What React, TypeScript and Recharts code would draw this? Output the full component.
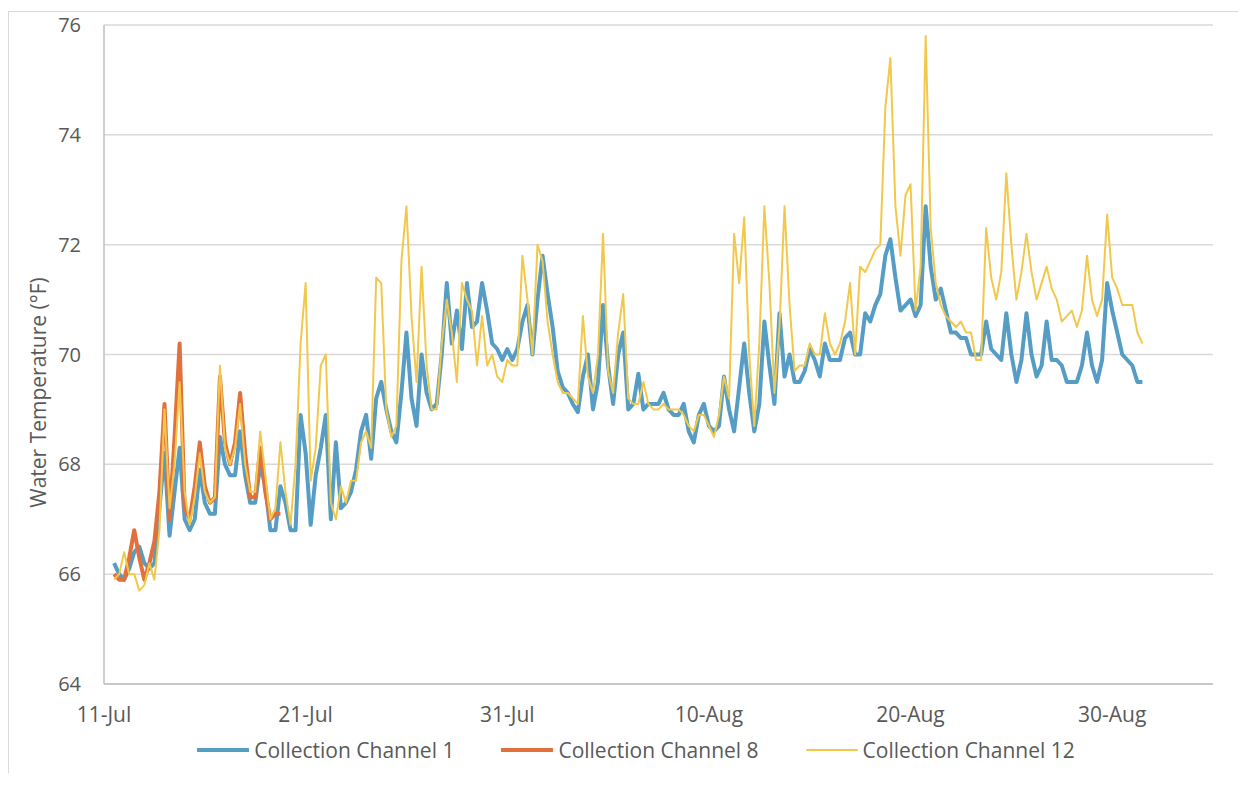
import React from "react";
import {
  LineChart,
  Line,
  XAxis,
  YAxis,
  CartesianGrid,
  Legend,
} from "recharts";

// readings every 6 hours, day 0 = 11-Jul 00:00
const FIRST_DAY = 0.5;
const STEP_DAYS = 0.25;

const TICK_DAYS = [0, 10, 20, 30, 40, 50];
const TICK_LABELS = ["11-Jul", "21-Jul", "31-Jul", "10-Aug", "20-Aug", "30-Aug"];
const Y_TICKS = [64, 66, 68, 70, 72, 74, 76];

const channel1 = [
  66.2, 66.0,
  65.9, 66.1, 66.4, 66.5,
  66.2, 66.1, 66.2, 67.2,
  68.2, 66.7, 67.5, 68.3,
  67.0, 66.8, 67.0, 67.9,
  67.3, 67.1, 67.1, 68.5,
  68.0, 67.8, 67.8, 68.6,
  67.8, 67.3, 67.3, 68.0,
  67.6, 66.8, 66.8, 67.6,
  67.3, 66.8, 66.8, 68.9,
  68.2, 66.9, 67.8, 68.3,
  68.9, 67.0, 68.4, 67.2,
  67.3, 67.5, 67.9, 68.6,
  68.9, 68.1, 69.2, 69.5,
  69.0, 68.6, 68.4, 69.3,
  70.4, 69.2, 68.7, 70.0,
  69.3, 69.0, 69.1, 70.0,
  71.3, 70.2, 70.8, 70.1,
  71.3, 70.5, 70.6, 71.3,
  70.8, 70.2, 70.1, 69.9,
  70.1, 69.9, 70.1, 70.6,
  70.9, 70.0, 71.0, 71.8,
  71.1, 70.5, 69.7, 69.4,
  69.3, 69.1, 68.95, 69.6,
  70.0, 69.0, 69.5, 70.9,
  69.8, 69.1, 70.0, 70.4,
  69.0, 69.1, 69.65, 69.0,
  69.1, 69.1, 69.1, 69.3,
  69.0, 68.9, 68.9, 69.1,
  68.6, 68.4, 68.9, 69.1,
  68.7, 68.6, 68.7, 69.6,
  69.0, 68.6, 69.4, 70.2,
  69.3, 68.6, 69.1, 70.6,
  69.8, 69.1, 70.75, 69.6,
  70.0, 69.5, 69.5, 69.7,
  70.1, 69.9, 69.6, 70.2,
  69.9, 69.9, 69.9, 70.3,
  70.4, 70.0, 70.0, 70.75,
  70.6, 70.9, 71.1, 71.8,
  72.1, 71.4, 70.8, 70.9,
  71.0, 70.7, 70.9, 72.7,
  71.6, 71.0, 71.2, 70.8,
  70.4, 70.4, 70.3, 70.3,
  70.0, 70.0, 70.0, 70.6,
  70.1, 70.0, 69.9, 70.75,
  70.0, 69.5, 69.9, 70.75,
  70.0, 69.6, 69.8, 70.6,
  69.9, 69.9, 69.8, 69.5,
  69.5, 69.5, 69.8, 70.4,
  69.8, 69.5, 69.9, 71.3,
  70.8, 70.4, 70.0, 69.9,
  69.8, 69.5, 69.5,
];

const channel8 = [
  66.0, 65.9,
  65.9, 66.3, 66.8, 66.3,
  65.9, 66.2, 66.6, 67.5,
  69.1, 67.0, 68.5, 70.2,
  67.2, 67.0, 67.6, 68.4,
  67.6, 67.3, 67.4, 69.6,
  68.4, 68.0, 68.4, 69.3,
  68.2, 67.4, 67.4, 68.3,
  67.5, 67.0, 67.1, 67.1,
];

const channel12 = [
  65.9, 66.0,
  66.4, 66.0, 66.0, 65.7,
  65.8, 66.2, 65.9, 66.8,
  69.0, 67.2, 68.0, 69.5,
  67.5, 66.9, 67.4, 68.2,
  67.5, 67.3, 67.4, 69.8,
  68.3, 68.0, 68.3, 69.1,
  68.0, 67.5, 67.5, 68.6,
  67.8, 67.0, 67.2, 68.4,
  67.5, 66.9, 68.0, 70.2,
  71.3, 67.7, 68.3, 69.8,
  70.0, 67.3, 67.0, 67.6,
  67.3, 67.7, 67.7, 68.4,
  68.6, 68.3, 71.4, 71.3,
  69.0, 68.5, 68.7, 71.7,
  72.7, 70.7, 69.5, 71.6,
  69.8, 69.0, 69.0, 70.2,
  71.0, 70.4, 69.5, 71.3,
  71.0, 70.8, 69.8, 70.7,
  69.8, 70.0, 69.6, 69.5,
  69.9, 69.8, 69.8, 71.8,
  71.0, 70.0, 72.0, 71.7,
  70.6, 70.0, 69.5, 69.3,
  69.3, 69.2, 69.1, 70.7,
  69.6, 69.3, 70.0, 72.2,
  69.7, 69.3, 70.4, 71.1,
  69.2, 69.1, 69.1, 69.5,
  69.1, 69.0, 69.0, 69.1,
  69.0, 69.0, 69.0, 68.9,
  68.7, 68.6, 68.9, 68.9,
  68.7, 68.5, 68.9, 69.6,
  69.2, 72.2, 71.3, 72.5,
  70.0, 68.7, 70.2, 72.7,
  71.3, 69.3, 70.5, 72.7,
  70.9, 69.7, 69.8, 69.8,
  70.2, 70.0, 70.0, 70.75,
  70.2, 70.0, 70.2, 70.6,
  71.3, 70.0, 71.6, 71.5,
  71.7, 71.9, 72.0, 74.5,
  75.4, 72.7, 71.8, 72.9,
  73.1, 70.8, 71.6, 75.8,
  72.3, 71.3, 70.9, 70.7,
  70.6, 70.5, 70.6, 70.4,
  70.4, 69.9, 69.9, 72.3,
  71.4, 71.0, 71.5, 73.3,
  72.0, 71.0, 71.5, 72.2,
  71.5, 71.0, 71.3, 71.6,
  71.2, 71.0, 70.6, 70.7,
  70.8, 70.5, 70.8, 71.8,
  71.0, 70.7, 71.0, 72.55,
  71.4, 71.2, 70.9, 70.9,
  70.9, 70.4, 70.2,
];

const SERIES = [
  { key: "ch1", name: "Collection Channel 1", color: "#559dc4", width: 4 },
  { key: "ch8", name: "Collection Channel 8", color: "#e0703c", width: 4 },
  { key: "ch12", name: "Collection Channel 12", color: "#f2c84b", width: 2 },
];

const data = channel1.map((v, i) => ({
  day: FIRST_DAY + i * STEP_DAYS,
  ch1: v,
  ch8: i < channel8.length ? channel8[i] : null,
  ch12: channel12[i],
}));

const FONT = "'Open Sans', sans-serif";
const TEXT = "#595959";

const YTitle = (props: any) => {
  const vb = props.viewBox || { x: 36, y: 17, height: 659 };
  const cx = vb.x - 6;
  const cy = vb.y + vb.height / 2 + 38;
  return (
    <text
      x={cx}
      y={cy}
      transform={`rotate(-90 ${cx} ${cy})`}
      textAnchor="middle"
      dominantBaseline="central"
      fontFamily={FONT}
      fontSize={21}
      fill={TEXT}
    >
      Water Temperature (°F)
    </text>
  );
};

const LegendRow = () => (
  <div
    style={{
      display: "flex",
      justifyContent: "center",
      alignItems: "center",
      paddingLeft: 26,
      fontFamily: FONT,
      fontSize: 21,
      color: TEXT,
    }}
  >
    {SERIES.map((s, i) => (
      <div
        key={s.key}
        style={{ display: "flex", alignItems: "center", marginLeft: i ? 47 : 0 }}
      >
        <svg width={52} height={10}>
          <line
            x1={1}
            x2={51}
            y1={5}
            y2={5}
            stroke={s.color}
            strokeWidth={s.width}
            strokeLinecap="round"
          />
        </svg>
        <span style={{ marginLeft: 5 }}>{s.name}</span>
      </div>
    ))}
  </div>
);

export default function App() {
  return (
    <div style={{ position: "relative", width: 1230, height: 765, overflow: "hidden" }}>
      <div
        style={{
          position: "absolute",
          left: 0,
          top: 3,
          width: 1238,
          height: 770,
          borderLeft: "1px solid #d9d9d9",
          borderTop: "1px solid #d9d9d9",
          pointerEvents: "none",
        }}
      />
      <LineChart
        width={1230}
        height={765}
        data={data}
        margin={{ top: 17, right: 25, left: 36, bottom: 49 }}
      >
        <CartesianGrid vertical={false} stroke="#d9d9d9" strokeWidth={1.5} />
        <XAxis
          dataKey="day"
          type="number"
          domain={[0, 55]}
          ticks={TICK_DAYS}
          interval={0}
          tickFormatter={(v: number) => TICK_LABELS[TICK_DAYS.indexOf(v)]}
          tickLine={false}
          tickSize={6}
          tickMargin={17}
          height={40}
          axisLine={{ stroke: "#bfbfbf", strokeWidth: 1.5 }}
          tick={{ fill: TEXT, fontSize: 21, fontFamily: FONT }}
        />
        <YAxis
          domain={[64, 76]}
          ticks={Y_TICKS}
          interval={0}
          width={60}
          tickLine={false}
          tickSize={6}
          tickMargin={17}
          axisLine={{ stroke: "#bfbfbf", strokeWidth: 1.5 }}
          tick={{ fill: TEXT, fontSize: 20, fontFamily: FONT }}
          label={<YTitle />}
        />
        <Legend
          verticalAlign="middle"
          align="center"
          layout="horizontal"
          wrapperStyle={{ top: 728, left: 0, width: 1230 }}
          content={<LegendRow />}
        />
        {SERIES.map((s) => (
          <Line
            key={s.key}
            dataKey={s.key}
            name={s.name}
            type="linear"
            stroke={s.color}
            strokeWidth={s.width}
            strokeLinejoin="round"
            dot={false}
            activeDot={false}
            isAnimationActive={false}
          />
        ))}
      </LineChart>
    </div>
  );
}
